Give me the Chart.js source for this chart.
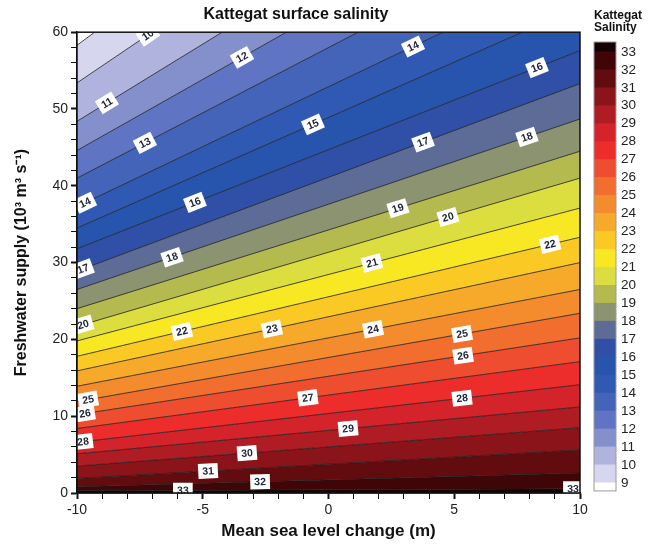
<!DOCTYPE html>
<html>
<head>
<meta charset="utf-8">
<title>Kattegat surface salinity</title>
<script src="https://cdn.jsdelivr.net/npm/chart.js@4.4.1/dist/chart.umd.min.js"></script>
<style>
    html, body { margin: 0; padding: 0; background: #fff; }
    #contenedor { position: relative; width: 658px; height: 546px; overflow: hidden; }
    #grafica { position: absolute; left: 0; top: 0; }
    #barra { position: absolute; left: 588px; top: 4px; }
</style>
</head>
<body>
<div id="contenedor">
    <canvas id="grafica" width="658" height="546"></canvas>
    <canvas id="barra" width="70" height="500"></canvas>
</div>
<script>
// contour levels and where each one crosses the left (x=-10) and right (x=10) edge
var xExtremos = [-10, 10];
var niveles = [9, 10, 11, 12, 13, 14, 15, 16, 17, 18, 19, 20, 21, 22, 23, 24, 25, 26, 27, 28, 29, 30, 31, 32, 33];
var yIzquierda = [58.3, 53.4, 48.4, 44.6, 41.0, 37.3, 34.5, 31.8, 28.9, 26.5, 24.0, 21.7, 19.8, 17.8, 15.9, 13.9, 11.9, 10.2, 8.4, 6.6, 5.1, 3.5, 1.9, 0.8, 0.3];
var yDerecha = [106.7, 97.7, 88.6, 81.6, 75.0, 68.5, 63.3, 57.6, 53.3, 48.7, 44.5, 41.0, 37.1, 33.3, 30.0, 26.5, 23.4, 20.2, 17.1, 14.1, 11.2, 8.5, 5.6, 2.6, 0.55];

// band colours: <9, 9-10, 10-11 ... 32-33, >33
var coloresBanda = [
    "#ffffff", "#d6d6ee", "#b0b3de", "#8490cc", "#5f74c2", "#4464ba", "#3059b3",
    "#2755ae", "#3050a8", "#5d6c97", "#8b9370", "#b4ba4d", "#dcdd3f", "#f8e823",
    "#fbc923", "#f7a929", "#f48c2e", "#f26e2f", "#ee4d2f", "#ec2d2c", "#d4232a",
    "#b01c24", "#8a141a", "#630c0f", "#3f0507", "#140202"
];

// inline contour labels: level and x position along the line
var etiquetaNivel = [10, 11, 12, 13, 14, 14, 15, 16, 16, 17, 17, 18, 18, 19, 20, 20, 21, 22, 22, 23, 24, 25, 25, 26, 26, 27, 28, 28, 29, 30, 31, 32, 33, 33];
var etiquetaX = [-7.18, -8.81, -3.44, -7.30, -9.68, 3.36, -0.62, -5.31, 8.29, -9.76, 3.76, -6.22, 7.89, 2.76, -9.76, 4.75, 1.73, -5.83, 8.81, -2.25, 1.77, -9.56, 5.31, -9.68, 5.35, -0.82, -9.76, 5.31, 0.78, -3.24, -4.79, -2.72, -5.79, 9.72];

var barraMin = 8.55;
var barraMax = 33.55;

document.addEventListener("DOMContentLoaded", function () {

    Chart.defaults.font.family = '"Liberation Sans", Arial, Helvetica, sans-serif';
    Chart.defaults.color = "#1a1a1a";
    Chart.defaults.animation = false;
    Chart.defaults.events = [];

    function yEnNivel(i, x) {
        var t = (x - xExtremos[0]) / (xExtremos[1] - xExtremos[0]);
        return yIzquierda[i] + (yDerecha[i] - yIzquierda[i]) * t;
    }

    var etiquetasContorno = {
        id: "etiquetasContorno",
        afterDatasetsDraw: function (chart) {
            var ctx = chart.ctx;
            var sx = chart.scales.x;
            var sy = chart.scales.y;
            var area = chart.chartArea;
            ctx.save();
            ctx.beginPath();
            ctx.rect(area.left, area.top, area.right - area.left, area.bottom - area.top);
            ctx.clip();
            ctx.font = 'bold 10.5px "Liberation Sans", Arial, sans-serif';
            ctx.textAlign = "center";
            ctx.textBaseline = "middle";
            for (var k = 0; k < etiquetaNivel.length; k++) {
                var i = niveles.indexOf(etiquetaNivel[k]);
                var px = sx.getPixelForValue(etiquetaX[k]);
                var py = sy.getPixelForValue(yEnNivel(i, etiquetaX[k]));
                var dx = sx.getPixelForValue(xExtremos[1]) - sx.getPixelForValue(xExtremos[0]);
                var dy = sy.getPixelForValue(yDerecha[i]) - sy.getPixelForValue(yIzquierda[i]);
                var texto = String(etiquetaNivel[k]);
                var ancho = ctx.measureText(texto).width + 8;
                ctx.save();
                ctx.translate(px, py);
                ctx.rotate(Math.atan2(dy, dx));
                ctx.fillStyle = "#ffffff";
                ctx.fillRect(-ancho / 2, -7.5, ancho, 15);
                ctx.fillStyle = "#1d2436";
                ctx.fillText(texto, 0, 0.5);
                ctx.restore();
            }
            ctx.restore();
        }
    };

    function marco(color, grosor) {
        return {
            id: "marco",
            afterDraw: function (chart) {
                var a = chart.chartArea;
                var ctx = chart.ctx;
                ctx.save();
                ctx.strokeStyle = color;
                ctx.lineWidth = grosor;
                ctx.strokeRect(a.left, a.top, a.right - a.left, a.bottom - a.top);
                ctx.restore();
            }
        };
    }

    var datasets = [];
    for (var i = 0; i < niveles.length; i++) {
        datasets.push({
            label: String(niveles[i]),
            data: [
                { x: xExtremos[0], y: yIzquierda[i] },
                { x: xExtremos[1], y: yDerecha[i] }
            ],
            borderColor: "#1b1b1b",
            borderWidth: 0.8,
            backgroundColor: coloresBanda[i],
            fill: i === 0 ? "end" : "-1",
            pointRadius: 0,
            tension: 0
        });
    }
    // saltiest water below the last contour
    var ultimo = niveles.length - 1;
    datasets.push({
        label: ">" + niveles[ultimo],
        data: [
            { x: xExtremos[0], y: yIzquierda[ultimo] },
            { x: xExtremos[1], y: yDerecha[ultimo] }
        ],
        borderWidth: 0,
        backgroundColor: coloresBanda[coloresBanda.length - 1],
        fill: "start",
        pointRadius: 0
    });

    var ctx = document.getElementById("grafica").getContext("2d");
    var grafica = new Chart(ctx, {
        type: "line",
        data: { datasets: datasets },
        plugins: [etiquetasContorno, marco("#111", 1.5)],
        options: {
            responsive: false,
            layout: { padding: { left: 12, right: 78, top: 0, bottom: 0 } },
            plugins: {
                legend: { display: false },
                tooltip: { enabled: false },
                title: {
                    display: true,
                    text: "Kattegat surface salinity",
                    font: { size: 16, weight: "bold" },
                    color: "#111",
                    padding: { top: 5, bottom: 8 }
                }
            },
            scales: {
                x: {
                    type: "linear",
                    min: -10,
                    max: 10,
                    afterFit: function (scale) { scale.height = 53; },
                    ticks: {
                        stepSize: 1,
                        autoSkip: false,
                        maxRotation: 0,
                        font: { size: 14 },
                        color: "#222",
                        callback: function (v) { return v % 5 === 0 ? v : ""; }
                    },
                    grid: {
                        drawOnChartArea: false,
                        tickLength: 6,
                        tickColor: "#111",
                        tickWidth: function (c) { return c.tick && c.tick.value % 5 === 0 ? 2 : 1; }
                    },
                    border: { color: "#111", width: 1.5 },
                    title: {
                        display: true,
                        text: "Mean sea level change (m)",
                        font: { size: 17, weight: "bold" },
                        color: "#111",
                        padding: { top: 0, bottom: 4 }
                    }
                },
                y: {
                    type: "linear",
                    min: 0,
                    max: 60,
                    afterFit: function (scale) { scale.width = 65; },
                    ticks: {
                        stepSize: 2,
                        autoSkip: false,
                        font: { size: 14 },
                        color: "#222",
                        callback: function (v) { return v % 10 === 0 ? v : ""; }
                    },
                    grid: {
                        drawOnChartArea: false,
                        tickLength: 6,
                        tickColor: "#111",
                        tickWidth: function (c) { return c.tick && c.tick.value % 10 === 0 ? 2 : 1; }
                    },
                    border: { color: "#111", width: 1.5 },
                    title: {
                        display: true,
                        text: "Freshwater supply (10\u00b3 m\u00b3 s\u207b\u00b9)",
                        font: { size: 16, weight: "bold" },
                        color: "#111",
                        padding: { top: 0, bottom: 4 }
                    }
                }
            }
        }
    });

    // colour bar
    var cajas = [];
    cajas.push({ data: [[barraMin, niveles[0]]], backgroundColor: coloresBanda[0] });
    for (var j = 0; j < niveles.length - 1; j++) {
        cajas.push({ data: [[niveles[j], niveles[j + 1]]], backgroundColor: coloresBanda[j + 1] });
    }
    cajas.push({ data: [[niveles[ultimo], barraMax]], backgroundColor: coloresBanda[coloresBanda.length - 1] });
    cajas.forEach(function (c) {
        c.grouped = false;
        c.barPercentage = 1;
        c.categoryPercentage = 1;
        c.borderWidth = 0;
    });

    var ctxBarra = document.getElementById("barra").getContext("2d");
    var barra = new Chart(ctxBarra, {
        type: "bar",
        data: { labels: ["S"], datasets: cajas },
        plugins: [marco("#9a9a9a", 1)],
        options: {
            responsive: false,
            layout: { padding: { left: 6, right: 0, top: 0, bottom: 0 } },
            plugins: {
                legend: { display: false },
                tooltip: { enabled: false },
                title: {
                    display: true,
                    text: ["Kattegat", "Salinity"],
                    align: "start",
                    font: { size: 12, weight: "bold", lineHeight: 1.0 },
                    color: "#111",
                    padding: { top: 6, bottom: 8 }
                }
            },
            scales: {
                x: { display: false },
                y: {
                    position: "right",
                    min: barraMin,
                    max: barraMax,
                    afterFit: function (scale) { scale.width = 42; },
                    afterBuildTicks: function (scale) {
                        scale.ticks = niveles.map(function (v) { return { value: v }; });
                    },
                    ticks: { font: { size: 13.5 }, color: "#222", padding: 5, autoSkip: false },
                    grid: { display: false, drawTicks: false },
                    border: { display: false }
                }
            }
        }
    });
});
</script>
</body>
</html>
